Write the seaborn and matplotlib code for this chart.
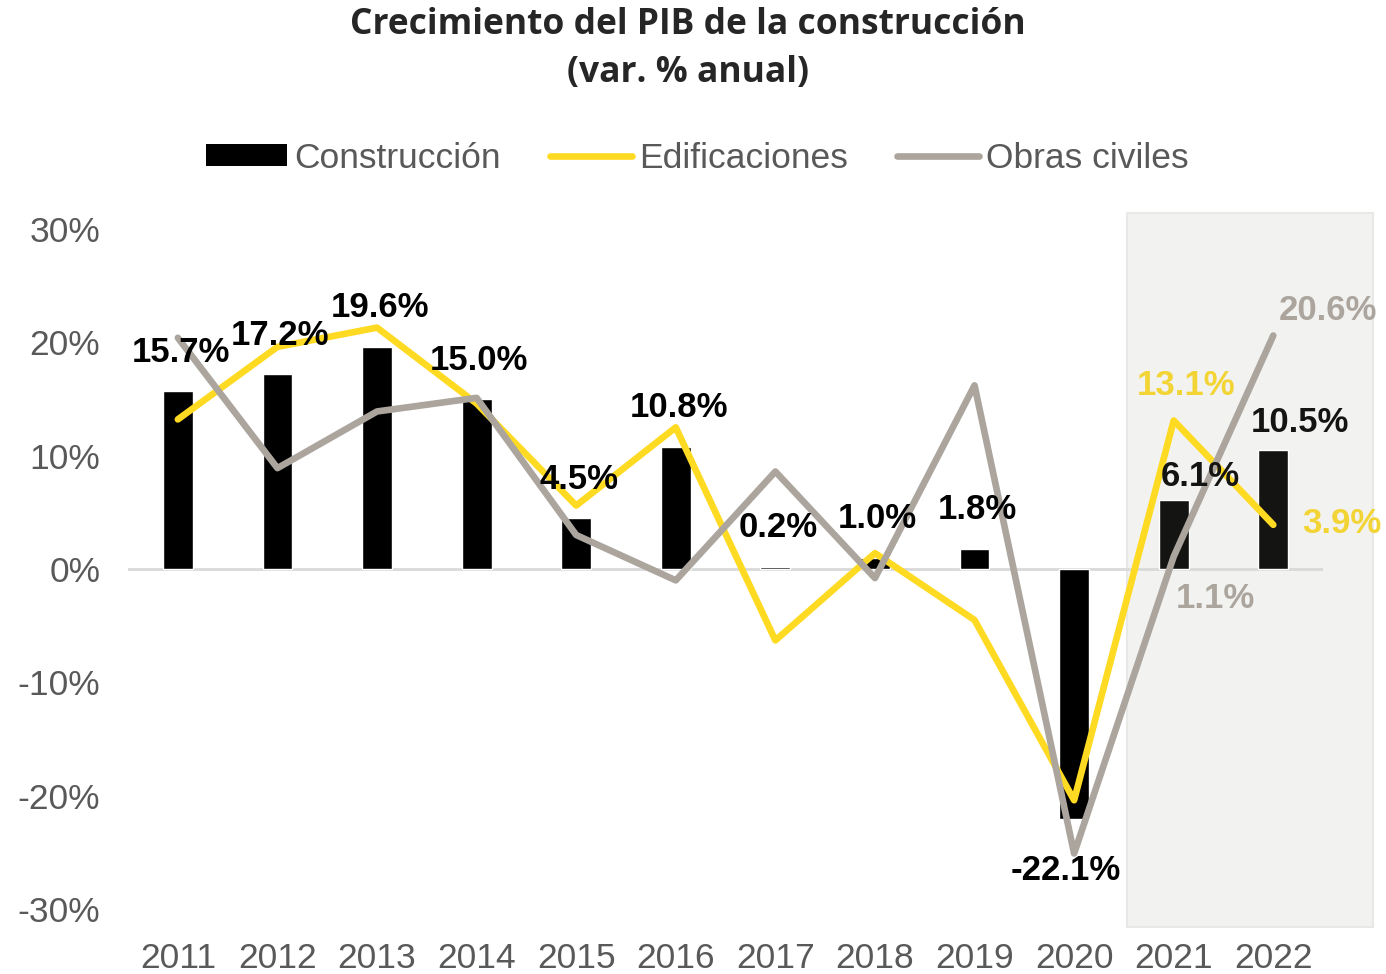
import numpy as np
import pandas as pd
import matplotlib
matplotlib.use('Agg')
import matplotlib.pyplot as plt
from matplotlib.patches import Rectangle, Patch
from matplotlib.lines import Line2D
import seaborn as sns

# datos
anios = ['2011', '2012', '2013', '2014', '2015', '2016',
         '2017', '2018', '2019', '2020', '2021', '2022']
construccion = [15.7, 17.2, 19.6, 15.0, 4.5, 10.8, 0.2, 1.0, 1.8, -22.1, 6.1, 10.5]
edificaciones = [13.2, 19.6, 21.3, 14.6, 5.6, 12.5, -6.3, 1.4, -4.5, -20.4, 13.1, 3.9]
obras_civiles = [20.4, 8.9, 13.9, 15.1, 3.0, -1.0, 8.6, -0.8, 16.2, -25.1, 1.1, 20.6]
yticks = [-30, -20, -10, 0, 10, 20, 30]

df = pd.DataFrame({'anio': anios, 'Construcción': construccion,
                   'Edificaciones': edificaciones, 'Obras civiles': obras_civiles})
df['pos'] = np.arange(len(df))

sns.set_style('white')
plt.rcParams['font.family'] = ['Liberation Sans', 'DejaVu Sans']

amarillo = '#FEDB22'
amarillo_txt = '#F3D435'
gris = '#ABA59E'
gris_txt = '#ABA59E'
gris_eje = '#595959'

fig = plt.figure(figsize=(13.86, 9.74), dpi=100)
ax = fig.add_axes([0.0924, 0.0667, 0.8622, 0.6982])

# zona sombreada (2021-2022)
ax.add_patch(Rectangle((9.53, -31.6), 2.47, 63.0, facecolor='#F2F2F0',
                       edgecolor='#E8E8E6', lw=1.5, clip_on=False, zorder=0))
ax.axhline(0, color='#D9D9D9', lw=2, zorder=1)

sns.barplot(data=df, x='anio', y='Construcción', color='black', width=0.3,
            saturation=1, ax=ax, zorder=2)
for p in ax.patches[-2:]:
    p.set_facecolor('#141412')

sns.lineplot(data=df, x='pos', y='Edificaciones', color=amarillo, lw=4.8,
             solid_capstyle='round', ax=ax, zorder=3)
sns.lineplot(data=df, x='pos', y='Obras civiles', color=gris, lw=4.8,
             solid_capstyle='round', ax=ax, zorder=4)

ax.set_xlim(-0.5, 11.5)
ax.set_ylim(-30, 30)
ax.set_yticks(yticks)
ax.set_yticklabels([f'{v}%' for v in yticks])
ax.set_xlabel('')
ax.set_ylabel('')
ax.tick_params(axis='y', labelsize=25.5, labelcolor=gris_eje, pad=20, length=0)
ax.tick_params(axis='x', labelsize=25.5, labelcolor=gris_eje, pad=24, length=0)
sns.despine(ax=ax, left=True, bottom=True)
ax.grid(False)

# etiquetas de construccion
ajustes = {9: (-6, -37), 10: (19, 17), 11: (19, 20)}
for i, v in enumerate(construccion):
    dx, dy = ajustes.get(i, (2, 28))
    ax.annotate(f'{v:.1f}%', (i, v), xytext=(dx, dy), textcoords='offset points',
                ha='center', va='center', fontsize=25, fontweight='bold',
                color='black' if i < 10 else '#141412', zorder=6)

# etiquetas de las lineas en 2021-2022
ax.annotate(f'{edificaciones[10]:.1f}%', (10, edificaciones[10]), xytext=(9, 25),
            textcoords='offset points', ha='center', va='center', fontsize=25,
            fontweight='bold', color=amarillo_txt, zorder=6)
ax.annotate(f'{edificaciones[11]:.1f}%', (11, edificaciones[11]), xytext=(49, 1),
            textcoords='offset points', ha='center', va='center', fontsize=25,
            fontweight='bold', color=amarillo_txt, zorder=6, annotation_clip=False)
ax.annotate(f'{obras_civiles[10]:.1f}%', (10, obras_civiles[10]), xytext=(30, -30),
            textcoords='offset points', ha='center', va='center', fontsize=25,
            fontweight='bold', color=gris_txt, zorder=6)
ax.annotate(f'{obras_civiles[11]:.1f}%', (11, obras_civiles[11]), xytext=(39, 18),
            textcoords='offset points', ha='center', va='center', fontsize=25,
            fontweight='bold', color=gris_txt, zorder=6, annotation_clip=False)

# leyenda
handles = [Patch(facecolor='black', edgecolor='none'),
           Line2D([], [], color=amarillo, lw=4.8),
           Line2D([], [], color=gris, lw=4.8)]
fig.legend(handles, ['Construcción', 'Edificaciones', 'Obras civiles'],
           loc='center', bbox_to_anchor=(697 / 1386, 1 - 158 / 974), ncol=3,
           frameon=False, fontsize=25.5, handlelength=2.3, handleheight=0.6,
           handletextpad=0.2, columnspacing=1.4, labelcolor=gris_eje)

fig.text(0.4964, 1 - 49 / 974, 'Crecimiento del PIB de la construcción\n(var. % anual)',
         ha='center', va='center', fontsize=25.5, fontweight='bold', color='#262626',
         family=['Open Sans', 'DejaVu Sans'], linespacing=1.45)

fig.savefig('out.png', dpi=100)
